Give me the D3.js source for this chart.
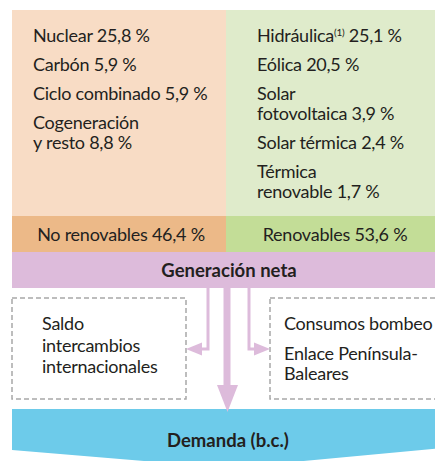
<!DOCTYPE html>
<html>

<head>
    <meta charset="utf-8">
    <title>Generación neta</title>
    <style type="text/css">
    body { margin: 0; background: #fff; }
    text { font-family: Lato, "Open Sans", sans-serif; fill: #231f20; letter-spacing: -0.25px; }
    .bold { font-weight: 700; letter-spacing: 0; }
    </style>
</head>

<body>
    <script src="https://cdn.jsdelivr.net/npm/d3@7/dist/d3.min.js"></script>
    <script>
    // fuentes de generacion, % sobre el total
    var noRenovLabels = ["Nuclear", "Carbón", "Ciclo combinado", "Cogeneración\ny resto"];
    var noRenovValues = [25.8, 5.9, 5.9, 8.8];
    var renovLabels = ["Hidráulica", "Eólica", "Solar\nfotovoltaica", "Solar térmica", "Térmica\nrenovable"];
    var renovValues = [25.1, 20.5, 3.9, 2.4, 1.7];
    var renovNotes = ["(1)", "", "", "", ""];
    var groupLabels = ["No renovables", "Renovables"];
    var leftOut = ["Saldo", "intercambios", "internacionales"];
    var rightOut = ["Consumos bombeo", "Enlace Península-\nBaleares"];

    var W = 435, H = 461;
    var FS = "18px", FSB = "18.5px";
    var es = d3.formatLocale({ decimal: ",", thousands: ".", grouping: [3], currency: ["", " €"] });
    var pct = function(v) { return es.format(".1f")(v) + " %"; };

    var col = d3.scaleBand().domain(groupLabels).range([12, 440]);
    var colFill = ["#f8dcc5", "#dfebcb"];
    var barFill = ["#ecb988", "#c3dd97"];
    var totals = [d3.sum(noRenovValues), d3.sum(renovValues)];
    var textPad = [21, 31];

    var yTop = 10, panelBottom = 216, barBottom = 252, genBottom = 288;

    var svg = d3.select("body").append("svg")
        .attr("width", W)
        .attr("height", H);

    svg.selectAll("rect.col")
        .data(groupLabels)
        .enter().append("rect")
        .attr("class", "col")
        .attr("x", function(d) { return col(d); })
        .attr("y", yTop)
        .attr("width", col.bandwidth())
        .attr("height", panelBottom - yTop)
        .style("fill", function(d, i) { return colFill[i]; });

    svg.selectAll("rect.bar")
        .data(groupLabels)
        .enter().append("rect")
        .attr("class", "bar")
        .attr("x", function(d) { return col(d); })
        .attr("y", panelBottom)
        .attr("width", col.bandwidth())
        .attr("height", barBottom - panelBottom)
        .style("fill", function(d, i) { return barFill[i]; });

    svg.selectAll("text.bar")
        .data(groupLabels)
        .enter().append("text")
        .attr("class", "bar")
        .attr("x", function(d) { return col(d) + col.bandwidth() / 2 + 2; })
        .attr("y", 241)
        .attr("text-anchor", "middle")
        .style("font-size", FS)
        .text(function(d, i) { return d + " " + pct(totals[i]); });

    // lists of sources
    function writeList(items, x0) {
        var y = 42;
        items.forEach(function(it) {
            var lines = it.label.split("\n");
            var t = svg.append("text").attr("x", x0).attr("y", y).style("font-size", FS);
            lines.forEach(function(ln, k) {
                var ts = t.append("tspan").attr("x", x0).attr("dy", k ? 20 : 0);
                if (k == lines.length - 1) {
                    ts.text(ln);
                    if (it.note) {
                        t.append("tspan").attr("dy", -6).style("font-size", "10px").text(it.note);
                        t.append("tspan").attr("dy", 6).text(" " + pct(it.value));
                    } else {
                        ts.text(ln + " " + pct(it.value));
                    }
                } else {
                    ts.text(ln);
                }
            });
            y += 20 * (lines.length - 1) + 29;
        });
    }
    writeList(noRenovLabels.map(function(l, i) { return { label: l, value: noRenovValues[i] }; }),
        col(groupLabels[0]) + textPad[0]);
    writeList(renovLabels.map(function(l, i) { return { label: l, value: renovValues[i], note: renovNotes[i] }; }),
        col(groupLabels[1]) + textPad[1]);

    // generacion neta
    var lilac = "#ddbbdb";
    svg.append("rect")
        .attr("x", 12).attr("y", barBottom)
        .attr("width", 430).attr("height", genBottom - barBottom)
        .style("fill", lilac);
    svg.append("text")
        .attr("class", "bold")
        .attr("x", 229).attr("y", 277)
        .attr("text-anchor", "middle")
        .style("font-size", FSB)
        .text("Generación neta");

    // dashed boxes
    var boxes = [
        { x: 12, w: 174, lines: leftOut, tx: 42, ty: [330, 352, 373] },
        { x: 270, w: 190, lines: rightOut.join("\n").split("\n"), tx: 284, ty: [330, 360, 380] }
    ];
    boxes.forEach(function(b) {
        svg.append("rect")
            .attr("x", b.x).attr("y", 298)
            .attr("width", b.w).attr("height", 101)
            .style("fill", "none")
            .style("stroke", "#a8a8a8")
            .style("stroke-width", 1.5)
            .style("stroke-dasharray", "5,3");
        b.lines.forEach(function(ln, k) {
            svg.append("text")
                .attr("x", b.tx).attr("y", b.ty[k])
                .style("font-size", FS)
                .text(ln);
        });
    });

    // arrows
    var line = d3.line();
    svg.append("path")
        .attr("d", line([[208, genBottom], [208, 349], [200, 349]]))
        .style("fill", "none").style("stroke", lilac).style("stroke-width", 3);
    svg.append("path")
        .attr("d", line([[186, 349], [202, 342.5], [202, 355.5]]) + "Z")
        .style("fill", lilac);
    svg.append("path")
        .attr("d", line([[249, genBottom], [249, 349], [256, 349]]))
        .style("fill", "none").style("stroke", lilac).style("stroke-width", 3);
    svg.append("path")
        .attr("d", line([[270, 349], [254, 342.5], [254, 355.5]]) + "Z")
        .style("fill", lilac);
    svg.append("rect")
        .attr("x", 223.5).attr("y", genBottom)
        .attr("width", 7).attr("height", 98)
        .style("fill", lilac);

    // demanda
    svg.append("path")
        .attr("d", line([[12, 409], [444, 409], [444, 448], [228, 468], [12, 450]]) + "Z")
        .style("fill", "#6dcbea");
    svg.append("path")
        .attr("d", line([[217, 385], [238, 385], [227.5, 412]]) + "Z")
        .style("fill", lilac);
    svg.append("text")
        .attr("class", "bold")
        .attr("x", 228).attr("y", 447)
        .attr("text-anchor", "middle")
        .style("font-size", FSB)
        .text("Demanda (b.c.)");
    </script>
</body>

</html>
